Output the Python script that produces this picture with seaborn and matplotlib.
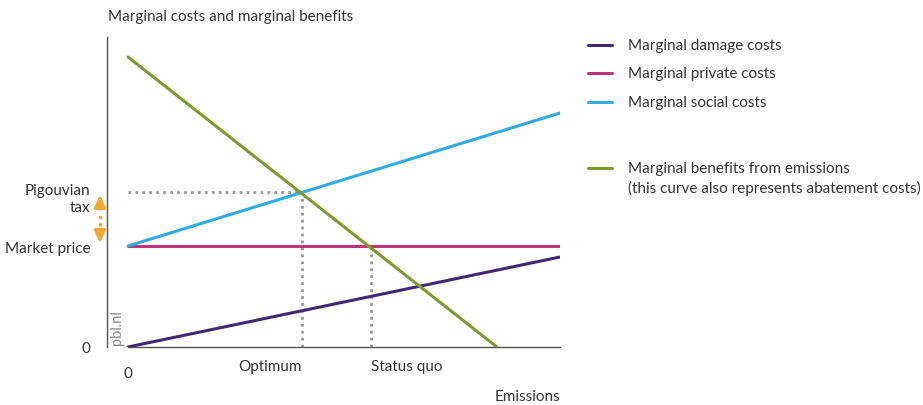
import matplotlib
matplotlib.use("Agg")
import matplotlib.pyplot as plt
import seaborn as sns
import pandas as pd
import numpy as np

# ---- data ----
emissions = [0.0, 10.0]
damage_costs = [0.0, 9.0]
private_costs = [10.1, 10.1]
social_costs = [10.1, 23.4]
benefit_x = [0.0, 8.54]
benefit_y = [29.0, 0.0]
optimum_x, optimum_y = 4.03, 15.5
status_quo_x, status_quo_y = 5.625, 10.1

series_names = ["Marginal damage costs", "Marginal private costs",
                "Marginal social costs",
                "Marginal benefits from emissions\n(this curve also represents abatement costs)"]
colors = ["#3e2a6d", "#c2317c", "#2eabe2", "#7e9a2f"]

x_tick_pos = [0.0, optimum_x, status_quo_x]
x_tick_labels = ["0", "Optimum", "Status quo"]
y_tick_pos = [0.0, private_costs[0], optimum_y - 0.4]
y_tick_labels = ["0", "Market price", "Pigouvian\ntax"]

df = pd.concat([
    pd.DataFrame({"x": emissions, "y": damage_costs, "s": series_names[0]}),
    pd.DataFrame({"x": emissions, "y": private_costs, "s": series_names[1]}),
    pd.DataFrame({"x": emissions, "y": social_costs, "s": series_names[2]}),
    pd.DataFrame({"x": benefit_x, "y": benefit_y, "s": series_names[3]}),
])

sns.set_style("white")
plt.rcParams["font.family"] = ["Lato", "DejaVu Sans"]
text_col = "#333333"
fs = 11

fig = plt.figure(figsize=(9.23, 4.06), dpi=100)
ax = fig.add_axes([107 / 923, 58 / 406, (560 - 107) / 923, (348 - 38) / 406])

# dotted guide lines
ax.plot([0, optimum_x], [optimum_y, optimum_y], color="#999999", lw=2,
        ls=(0, (1, 1.5)), zorder=1)
ax.plot([optimum_x, optimum_x], [0, optimum_y], color="#999999", lw=2,
        ls=(0, (1, 1.5)), zorder=1)
ax.plot([status_quo_x, status_quo_x], [0, status_quo_y], color="#999999", lw=2,
        ls=(0, (1, 1.5)), zorder=1)

sns.lineplot(data=df, x="x", y="y", hue="s", palette=colors, hue_order=series_names,
             linewidth=2.2, ax=ax, legend=False, zorder=3, sort=False,
             estimator=None)

ax.set_xlim(-0.486, 10)
ax.set_ylim(0, 31)
ax.set_xlabel("")
ax.set_ylabel("")

for s in ["top", "right"]:
    ax.spines[s].set_visible(False)
for s in ["left", "bottom"]:
    ax.spines[s].set_color("#555555")
    ax.spines[s].set_linewidth(1.0)
ax.spines["bottom"].set_bounds(0, 10)

ax.set_xticks(x_tick_pos)
ax.set_xticklabels(x_tick_labels, fontsize=fs, color=text_col)
ax.set_yticks(y_tick_pos)
ax.set_yticklabels(y_tick_labels, fontsize=fs, color=text_col)
ax.tick_params(axis="x", direction="out", length=7, width=1, color="#555555", pad=2)
ax.tick_params(axis="y", direction="out", length=8, width=1, color="#555555", pad=4)
xt = ax.xaxis.get_major_ticks()
for t in xt[1:]:
    t.tick1line.set_visible(False)
xl = ax.get_xticklabels()
xl[0].set_y(-0.02)
xl[1].set_ha("right")
xl[2].set_ha("left")
yt = ax.yaxis.get_major_ticks()
for t in yt[1:]:
    t.tick1line.set_visible(False)
for lab in ax.get_yticklabels():
    lab.set_multialignment("right")

# Pigouvian tax arrows
ax_x = -0.65
orange = "#f0a830"
ax.annotate("", xy=(ax_x, optimum_y), xytext=(ax_x, 13.6),
            arrowprops=dict(arrowstyle="-|>,head_length=0.7,head_width=0.32", color=orange, lw=2.4),
            annotation_clip=False)
ax.annotate("", xy=(ax_x, private_costs[0]), xytext=(ax_x, 12.0),
            arrowprops=dict(arrowstyle="-|>,head_length=0.7,head_width=0.32", color=orange, lw=2.4),
            annotation_clip=False)
ax.plot([ax_x, ax_x], [12.1, 13.5], color=orange, lw=2.4, ls=(0, (1, 1.2)), clip_on=False)

# pbl.nl
ax.text(-0.25, 0.3, "pbl.nl", rotation=90, fontsize=10.5, color="#888888",
        ha="center", va="bottom")

# titles
fig.text(108 / 923, 1 - 17 / 406, "Marginal costs and marginal benefits",
         fontsize=fs, color=text_col, ha="left", va="center")
fig.text(560 / 923, 1 - 397 / 406, "Emissions", fontsize=fs, color=text_col,
         ha="right", va="center")

# legend
leg_y = [46, 74, 103, 169]
for name, c, py in zip(series_names, colors, leg_y):
    fig.add_artist(plt.Line2D([588 / 923, 612 / 923], [1 - py / 406, 1 - py / 406],
                              color=c, lw=2.2))
    fig.text(628 / 923, 1 - (py - 7) / 406, name, fontsize=fs, color=text_col,
             ha="left", va="top", linespacing=1.38)

fig.savefig("out.png", dpi=100)
